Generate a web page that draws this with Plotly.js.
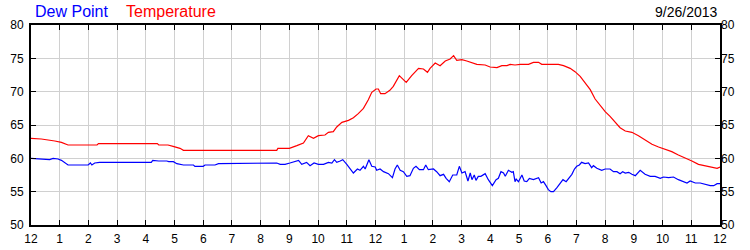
<!DOCTYPE html>
<html>
<head>
<meta charset="utf-8">
<script src="https://cdn.plot.ly/plotly-3.0.1.min.js"></script>
<style>html,body{margin:0;padding:0;background:#fff;}#chart{width:750px;height:250px;}</style>
</head>
<body>
<div id="chart"></div>
<script>
const tickHours = [0,1,2,3,4,5,6,7,8,9,10,11,12,13,14,15,16,17,18,19,20,21,22,23,24];
const tickLabels = ["12","1","2","3","4","5","6","7","8","9","10","11","12","1","2","3","4","5","6","7","8","9","10","11","12"];
const yTicks = [50,55,60,65,70,75,80];

const tempHours = [0,0.36,0.83,1.06,1.29,2.30,2.35,4.40,4.45,4.77,4.95,5.19,5.31,8.56,8.6,9.0,9.26,9.49,9.66,9.84,10.01,10.24,10.36,10.53,10.65,10.83,11.06,11.23,11.4,11.58,11.75,11.87,12.02,12.1,12.18,12.33,12.5,12.62,12.83,13.07,13.26,13.5,13.67,13.81,13.9,14.08,14.25,14.43,14.6,14.72,14.83,15.01,15.18,15.41,15.53,15.82,15.99,16.23,16.4,16.58,16.69,16.86,17.04,17.33,17.5,17.68,17.79,18.37,18.55,18.78,18.95,19.13,19.3,19.48,19.65,19.83,20.0,20.17,20.35,20.52,20.7,20.93,21.16,21.39,21.63,21.86,22.09,22.32,22.55,22.79,23.02,23.25,23.48,23.72,23.9,24];
const tempValues = [63.0,62.9,62.6,62.4,62.0,62.0,62.2,62.2,62.0,62.0,61.8,61.5,61.2,61.2,61.5,61.5,61.9,62.3,63.4,63.0,63.4,63.5,63.9,64.0,64.7,65.4,65.7,66.1,66.7,67.5,68.8,69.9,70.4,70.4,69.7,69.7,70.2,70.8,72.4,71.4,72.4,73.5,73.4,72.9,73.5,74.3,73.9,74.6,74.9,75.4,74.7,74.8,74.6,74.3,74.1,74.0,73.7,73.6,73.9,73.9,74.1,74.0,74.1,74.1,74.4,74.4,74.1,74.1,73.9,73.5,73.0,72.3,71.4,70.3,68.9,67.9,67.0,66.3,65.5,64.6,64.1,63.9,63.4,62.8,62.1,61.7,61.4,61.0,60.5,60.1,59.6,59.1,58.9,58.6,58.5,58.7];

const dewHours = [0,0.36,0.48,0.65,0.77,0.94,1.06,1.17,1.29,1.99,2.07,2.12,2.22,2.39,4.19,4.24,4.45,4.73,4.8,4.96,5.08,5.31,5.66,5.71,6.0,6.06,6.41,6.53,8.5,8.56,8.68,8.85,9.02,9.26,9.32,9.43,9.6,9.72,9.86,10.01,10.19,10.36,10.48,10.57,10.65,10.77,10.86,11.0,11.11,11.23,11.37,11.46,11.58,11.64,11.77,11.87,11.99,12.04,12.16,12.28,12.45,12.59,12.68,12.76,12.86,12.97,13.09,13.2,13.32,13.41,13.53,13.67,13.75,13.84,14.02,14.13,14.25,14.37,14.46,14.57,14.69,14.83,14.92,15.01,15.12,15.22,15.3,15.36,15.44,15.5,15.58,15.67,15.82,15.93,16.07,16.2,16.28,16.37,16.46,16.52,16.63,16.75,16.8,16.86,16.9,16.98,17.1,17.18,17.27,17.36,17.5,17.68,17.77,17.85,17.94,18.02,18.11,18.2,18.32,18.43,18.53,18.64,18.72,18.84,18.93,19.01,19.1,19.18,19.3,19.42,19.53,19.59,19.71,19.88,20.0,20.17,20.29,20.41,20.52,20.61,20.7,20.82,20.93,21.05,21.22,21.39,21.57,21.74,21.92,22.03,22.21,22.38,22.55,22.73,22.85,22.96,23.14,23.31,23.48,23.66,23.78,23.9,24];
const dewValues = [60.0,59.9,59.8,59.8,60.0,59.9,59.7,59.4,59.0,59.0,59.3,59.0,59.3,59.4,59.4,59.7,59.6,59.6,59.5,59.5,59.2,59.0,59.0,58.8,58.8,59.0,59.0,59.2,59.2,59.3,59.1,59.1,59.3,59.6,59.7,59.1,59.4,58.9,59.3,59.1,59.1,59.4,59.3,59.8,59.4,59.6,59.8,59.1,58.5,57.8,58.4,58.2,58.8,58.4,59.8,58.8,58.7,58.2,58.4,58.0,57.7,57.1,58.4,59.0,58.2,58.0,57.3,57.4,58.5,58.8,58.3,58.3,59.0,58.3,58.4,58.0,57.4,57.6,57.0,56.5,57.5,57.5,58.8,57.8,58.0,56.6,57.8,56.8,57.5,56.7,57.3,57.3,57.7,56.8,55.9,56.8,57.0,58.0,57.8,57.3,58.2,57.9,58.0,56.5,56.9,56.5,57.5,56.6,56.5,57.0,56.8,57.1,56.3,56.5,55.9,55.3,55.0,55.0,55.6,56.3,56.8,56.5,57.0,57.6,58.4,58.8,59.0,59.4,59.2,59.3,58.6,58.9,58.5,58.2,58.4,58.4,58.0,58.0,57.7,58.0,57.8,57.9,57.6,57.4,58.2,57.6,57.3,57.3,57.0,57.2,57.1,57.2,56.8,56.5,56.3,56.6,56.3,56.3,56.1,55.9,55.9,56.2,56.2];

const seriesNames = ["Dew Point","Temperature"];
const dateLabel = "9/26/2013";

const font = {family: "Liberation Sans, Arial, sans-serif", size: 12, color: "#000"};

const traces = [
  {x: tempHours, y: tempValues, type: "scatter", mode: "lines", name: seriesNames[1],
   line: {color: "#ff0000", width: 1.2}, hoverinfo: "skip"},
  {x: dewHours, y: dewValues, type: "scatter", mode: "lines", name: seriesNames[0],
   line: {color: "#0000ff", width: 1.2}, hoverinfo: "skip"}
];

const layout = {
  width: 750, height: 250,
  margin: {l: 31, r: 30, t: 25, b: 25, pad: 0},
  paper_bgcolor: "#fff", plot_bgcolor: "#fff",
  showlegend: false,
  font: font,
  xaxis: {
    range: [0, 24], tickmode: "array", tickvals: tickHours, ticktext: tickLabels,
    showgrid: true, gridcolor: "#d0d0d0", gridwidth: 1,
    ticks: "inside", ticklen: 5, tickcolor: "#000", tickwidth: 1,
    showline: true, linecolor: "#000", linewidth: 2, mirror: "ticks",
    zeroline: false, tickfont: font, fixedrange: true, ticklabelstandoff: 2
  },
  yaxis: {
    range: [50, 80], tickmode: "array", tickvals: yTicks,
    showgrid: true, gridcolor: "#d0d0d0", gridwidth: 1,
    ticks: "inside", ticklen: 5, tickcolor: "#000", tickwidth: 1,
    showline: true, linecolor: "#000", linewidth: 2, mirror: "ticks",
    zeroline: false, tickfont: font, fixedrange: true, ticklabelstandoff: 3
  },
  yaxis2: {
    range: [50, 80], tickmode: "array", tickvals: yTicks, overlaying: "y", side: "right",
    showgrid: false, ticks: "", showline: false, zeroline: false, tickfont: font, fixedrange: true
  },
  annotations: [
    {text: seriesNames[0], xref: "paper", yref: "paper", x: 0.003, y: 1.0675, xanchor: "left", yanchor: "middle",
     showarrow: false, font: {family: "Liberation Sans, Arial, sans-serif", size: 16, color: "#0000ff"}},
    {text: seriesNames[1], xref: "paper", yref: "paper", x: (124-31)/689, y: 1.0675, xanchor: "left", yanchor: "middle",
     showarrow: false, font: {family: "Liberation Sans, Arial, sans-serif", size: 16, color: "#ff0000"}},
    {text: dateLabel, xref: "paper", yref: "paper", x: (719-31)/689, y: 1.0675, xanchor: "right", yanchor: "middle",
     showarrow: false, font: {family: "Liberation Sans, Arial, sans-serif", size: 14, color: "#000"}}
  ]
};

// invisible trace so the right-hand axis is drawn
traces.push({x: [0], y: [50], yaxis: "y2", type: "scatter", mode: "markers", marker: {opacity: 0}, hoverinfo: "skip", showlegend: false});

Plotly.newPlot("chart", traces, layout, {staticPlot: true, displayModeBar: false});
</script>
</body>
</html>
